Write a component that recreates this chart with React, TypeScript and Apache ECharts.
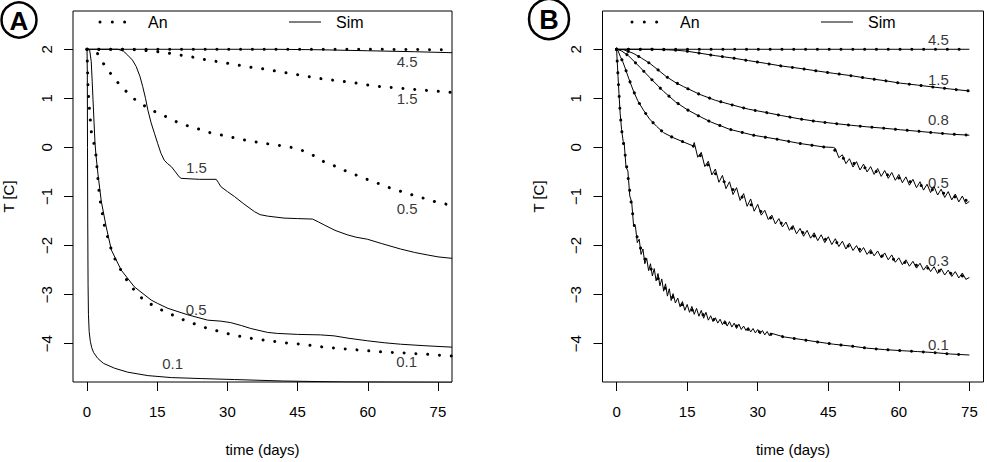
import React, { useEffect, useRef } from "react";
import * as echarts from "echarts";

// ---------- shared axis ticks ----------
const dayTicks = [0, 15, 30, 45, 60, 75];
const tempTicks = [-4, -3, -2, -1, 0, 1, 2];
const DAY_MIN = -3;
const DAY_MAX = 78;
const TEMP_MIN = -4.78;
const TEMP_MAX = 2.78;

// ---------- Panel A: analytical solutions (dotted) ----------
const anA45Days = [0, 20, 40, 60, 78];
const anA45Temp = [2, 2, 2, 2, 1.99];

const anA15Days = [0, 8, 12, 15.1, 17.6, 20.1, 22.6, 25.2, 27.8, 30.3, 32.7, 35.2, 37.7, 40.2, 42.7, 45.2, 47.6, 50.1, 52.6, 55.1, 57.6, 60.2, 62.7, 67.7, 70.2, 72.9, 75.5, 78];
const anA15Temp = [2, 2, 1.98, 1.95, 1.92, 1.88, 1.84, 1.79, 1.75, 1.71, 1.67, 1.63, 1.6, 1.56, 1.52, 1.48, 1.44, 1.4, 1.37, 1.34, 1.31, 1.27, 1.24, 1.2, 1.18, 1.16, 1.14, 1.12];

const anA05Days = [0, 1, 2.2, 3.5, 5, 6.6, 8.4, 10.2, 12.4, 14.5, 16.8, 19.2, 21.5, 24, 26.3, 28.8, 31.3, 33.8, 36.3, 38.8, 41.2, 43.7, 46.2, 48.5, 50.6, 53, 55.3, 57.7, 60.1, 62.4, 64.9, 67.2, 69.6, 72.1, 74.5, 76.9, 78];
const anA05Temp = [2, 1.99, 1.92, 1.71, 1.51, 1.32, 1.14, 0.98, 0.84, 0.73, 0.63, 0.52, 0.44, 0.37, 0.3, 0.25, 0.2, 0.15, 0.11, 0.07, 0.04, 0.0, -0.07, -0.17, -0.29, -0.38, -0.48, -0.57, -0.66, -0.74, -0.83, -0.9, -0.97, -1.04, -1.11, -1.16, -1.18];

const anA01Days = [0, 0.06, 0.2, 0.34, 0.5, 0.7, 0.92, 1.5, 1.92, 2.13, 2.34, 2.56, 2.9, 3.32, 3.75, 4.47, 5.18, 6.1, 7.3, 8.6, 10.1, 11.9, 14.1, 16.3, 18.7, 21, 23.4, 25.8, 28.3, 30.7, 33.2, 35.7, 38.2, 40.7, 43.2, 45.7, 48.2, 50.6, 53.1, 55.7, 58.3, 60.9, 63.4, 68.4, 71.1, 73.6, 76.1, 78];
const anA01Temp = [2, 1.75, 1.27, 1.03, 0.8, 0.56, 0.32, 0.07, -0.17, -0.41, -0.65, -0.9, -1.14, -1.37, -1.62, -1.85, -2.08, -2.31, -2.51, -2.72, -2.91, -3.09, -3.22, -3.33, -3.43, -3.53, -3.61, -3.69, -3.75, -3.81, -3.86, -3.9, -3.93, -3.96, -3.99, -4.01, -4.04, -4.07, -4.09, -4.11, -4.13, -4.15, -4.17, -4.19, -4.21, -4.22, -4.24, -4.25];

// ---------- Panel A: simulations (solid) ----------
const simA45Days = [0, 40, 50, 60, 70, 78];
const simA45Temp = [2, 2, 1.99, 1.97, 1.95, 1.93];

const simA15Days = [0, 6.6, 7.8, 8.7, 9.7, 10.5, 11.3, 11.9, 12.5, 13, 13.7, 14.4, 15.1, 15.8, 16.5, 17.2, 18, 18.9, 19.7, 20.1, 22, 24, 27.6, 28.1, 28.6, 30, 31.5, 33.5, 35.8, 37, 38.6, 42.1, 45, 48.2, 49.5, 50.7, 53, 55.6, 57.5, 59.9, 63, 67, 70, 72.7, 75, 78];
const simA15Temp = [2, 2, 1.96, 1.88, 1.78, 1.65, 1.45, 1.24, 1.0, 0.76, 0.5, 0.29, 0.08, -0.12, -0.26, -0.33, -0.39, -0.5, -0.6, -0.63, -0.64, -0.65, -0.65, -0.72, -0.8, -0.9, -1.0, -1.15, -1.31, -1.37, -1.4, -1.44, -1.45, -1.46, -1.52, -1.58, -1.69, -1.78, -1.83, -1.87, -1.96, -2.07, -2.14, -2.19, -2.23, -2.26];

const simA05Days = [0, 0.55, 0.9, 1.1, 1.28, 1.5, 1.7, 1.9, 2.34, 3.05, 4.1, 5.2, 7.3, 10.1, 13.7, 15.1, 17.3, 21.5, 25.8, 28.6, 30.7, 33, 35, 38.6, 40.7, 45, 49.9, 52.8, 56, 59.9, 63.5, 67, 72, 78];
const simA05Temp = [2, 1.99, 1.75, 1.35, 0.97, 0.5, 0.1, -0.15, -0.55, -1.1, -1.62, -2.09, -2.5, -2.84, -3.11, -3.18, -3.28, -3.41, -3.52, -3.54, -3.57, -3.63, -3.69, -3.77, -3.79, -3.81, -3.82, -3.84, -3.89, -3.94, -3.98, -4.01, -4.04, -4.07];

const simA01Days = [0, 0.06, 0.1, 0.15, 0.22, 0.3, 0.45, 0.7, 1, 1.4, 2.3, 3.5, 5.9, 8.7, 13, 18, 24.4, 31.5, 42, 55.6, 78];
const simA01Temp = [2, 1.5, 0, -1.5, -2.8, -3.4, -3.75, -3.95, -4.08, -4.18, -4.3, -4.4, -4.5, -4.58, -4.65, -4.69, -4.71, -4.73, -4.76, -4.78, -4.79];

// ---------- Panel B: analytical solutions ----------
const anB45Days = [0, 25, 50, 75];
const anB45Temp = [2, 2, 2, 2];

const anB15Days = [0, 7, 10.6, 12.8, 15, 17.7, 21, 24.8, 28, 31.9, 35, 39, 42.5, 46.1, 50, 53.2, 57, 60.3, 64, 67.4, 71, 75];
const anB15Temp = [2, 2, 1.99, 1.98, 1.96, 1.92, 1.87, 1.82, 1.77, 1.71, 1.66, 1.61, 1.56, 1.51, 1.46, 1.41, 1.36, 1.31, 1.27, 1.23, 1.19, 1.15];

const anB08Days = [0, 1.5, 3.5, 5.3, 7.1, 8.8, 10.6, 12.4, 14.2, 17.7, 21, 24.8, 28, 31.9, 35, 39, 42.5, 46.1, 50, 53.2, 57, 60.3, 64, 67.4, 71, 75];
const anB08Temp = [2, 1.99, 1.92, 1.82, 1.71, 1.58, 1.44, 1.33, 1.24, 1.08, 0.96, 0.86, 0.78, 0.71, 0.65, 0.58, 0.53, 0.49, 0.45, 0.42, 0.39, 0.36, 0.33, 0.3, 0.27, 0.25];

const anB05Days = [0, 1, 2.5, 5, 7.5, 10, 12.5, 15, 17.5, 20, 24, 29, 34, 39, 44, 46.1, 48.2, 50, 53.2, 56.5, 60.3, 64, 67.4, 71, 75];
const anB05Temp = [2, 1.97, 1.87, 1.63, 1.38, 1.14, 0.93, 0.77, 0.64, 0.52, 0.37, 0.25, 0.17, 0.08, 0.01, -0.03, -0.22, -0.31, -0.43, -0.53, -0.63, -0.75, -0.87, -0.98, -1.1];

const anB03Days = [0, 0.3, 0.8, 1.3, 1.8, 2.6, 3.5, 4.5, 5.7, 7, 8.5, 10, 12, 14, 16.3, 17.4, 20.6, 24, 29, 33.3, 39, 46.1, 53.2, 60.3, 67.4, 75];
const anB03Temp = [2, 1.97, 1.85, 1.75, 1.62, 1.4, 1.17, 0.95, 0.76, 0.58, 0.43, 0.3, 0.2, 0.12, 0.03, -0.12, -0.5, -0.8, -1.2, -1.47, -1.72, -1.92, -2.12, -2.32, -2.49, -2.65];

const anB01Days = [0, 0.1, 0.3, 0.5, 0.75, 1.06, 1.4, 1.77, 2.5, 3.2, 3.9, 4.96, 6.4, 8.5, 10.6, 12, 14.5, 17.7, 21, 24.8, 28, 31.9, 35.5, 39, 42.5, 46.1, 50, 53.2, 57, 60.3, 64, 67.4, 71, 75];
const anB01Temp = [2, 1.8, 1.45, 1.1, 0.7, 0.36, 0.12, -0.12, -0.66, -1.21, -1.68, -2.02, -2.36, -2.63, -2.91, -3.06, -3.25, -3.38, -3.52, -3.62, -3.71, -3.79, -3.86, -3.91, -3.96, -4.01, -4.05, -4.09, -4.12, -4.14, -4.16, -4.18, -4.21, -4.23];

// ---------- Panel B: simulations (freezing shows as a saw-tooth) ----------
const simB05Days = [0, 1, 2.5, 5, 7.5, 10, 12.5, 15, 17.5, 20, 24, 29, 34, 39, 44, 46.1,
  46.5, 47.25, 48, 48.75, 49.5, 50.25, 51, 51.75, 52.5, 53.25, 54, 54.75, 55.5, 56.25, 57, 57.75, 58.5, 59.25, 60, 60.75,
  61.5, 62.25, 63, 63.75, 64.5, 65.25, 66, 66.75, 67.5, 68.25, 69, 69.75, 70.5, 71.25, 72, 72.75, 73.5, 74.25, 75];
const simB05Temp = [2, 1.97, 1.87, 1.63, 1.38, 1.14, 0.93, 0.77, 0.64, 0.52, 0.37, 0.25, 0.17, 0.08, 0.01, 0.0,
  -0.02, -0.21, -0.15, -0.33, -0.23, -0.4, -0.29, -0.46, -0.34, -0.5, -0.39, -0.55, -0.43, -0.59, -0.47, -0.63, -0.51, -0.67, -0.55, -0.72,
  -0.6, -0.77, -0.65, -0.82, -0.7, -0.87, -0.75, -0.92, -0.8, -0.97, -0.85, -1.02, -0.9, -1.07, -0.95, -1.11, -0.99, -1.15, -1.1];

const simB03Days = [0, 0.3, 0.8, 1.3, 1.8, 2.6, 3.5, 4.5, 5.7, 7, 8.5, 10, 12, 14, 16.3,
  16.5, 17.25, 18, 18.75, 19.5, 20.25, 21, 21.75, 22.5, 23.25, 24, 24.75, 25.5, 26.25, 27, 27.75, 28.5, 29.25, 30, 30.75,
  31.5, 32.25, 33, 33.75, 34.5, 35.25, 36, 36.75, 37.5, 38.25, 39, 39.75, 40.5, 41.25, 42, 42.75, 43.5, 44.25, 45, 45.75,
  46.5, 47.25, 48, 48.75, 49.5, 50.25, 51, 51.75, 52.5, 53.25, 54, 54.75, 55.5, 56.25, 57, 57.75, 58.5, 59.25, 60, 60.75,
  61.5, 62.25, 63, 63.75, 64.5, 65.25, 66, 66.75, 67.5, 68.25, 69, 69.75, 70.5, 71.25, 72, 72.75, 73.5, 74.25, 75];
const simB03Temp = [2, 1.97, 1.85, 1.75, 1.62, 1.4, 1.17, 0.95, 0.76, 0.58, 0.43, 0.3, 0.2, 0.12, 0.03,
  0.1, -0.2, -0.1, -0.39, -0.28, -0.56, -0.44, -0.71, -0.57, -0.84, -0.7, -0.96, -0.82, -1.08, -0.94, -1.2, -1.05, -1.3, -1.16, -1.38,
  -1.28, -1.47, -1.38, -1.56, -1.45, -1.62, -1.52, -1.69, -1.59, -1.76, -1.65, -1.81, -1.69, -1.85, -1.74, -1.9, -1.78, -1.94, -1.82, -1.98,
  -1.86, -2.02, -1.91, -2.07, -1.95, -2.1, -2.0, -2.14, -2.04, -2.18, -2.08, -2.21, -2.11, -2.25, -2.15, -2.29, -2.19, -2.34, -2.25, -2.39,
  -2.29, -2.42, -2.32, -2.46, -2.36, -2.5, -2.4, -2.53, -2.43, -2.57, -2.47, -2.6, -2.5, -2.63, -2.53, -2.66, -2.56, -2.69, -2.65];

const simB01Days = [0, 0.1, 0.3, 0.5, 0.75, 1.06, 1.4,
  1.6, 2.0, 2.4, 2.8, 3.2, 3.6, 4.0, 4.4, 4.8, 5.2, 5.6, 6.0, 6.4, 6.8, 7.2, 7.6, 8.0, 8.4, 8.8, 9.2, 9.6, 10.0, 10.4, 10.8, 11.2, 11.6, 12.0,
  12.5, 13, 13.5, 14, 14.5, 15, 15.5, 16, 16.5, 17, 17.5, 18, 18.5, 19, 19.5, 20, 20.5, 21, 21.5, 22, 22.5, 23, 23.5, 24, 24.5, 25,
  25.5, 26, 26.5, 27, 27.5, 28, 28.5, 29, 29.5, 30, 30.5, 31, 31.5, 32, 32.5, 33,
  35.5, 39, 42.5, 46.1, 50, 53.2, 57, 60.3, 64, 67.4, 71, 75];
const simB01Temp = [2, 1.8, 1.45, 1.1, 0.7, 0.36, 0.12,
  0.1, -0.4, -0.48, -0.99, -1.11, -1.58, -1.61, -1.94, -1.87, -2.18, -2.07, -2.37, -2.26, -2.51, -2.37, -2.62, -2.47, -2.72, -2.57, -2.82, -2.68, -2.93, -2.78, -3.03, -2.88, -3.12, -2.98,
  -3.17, -3.07, -3.25, -3.14, -3.32, -3.2, -3.36, -3.24, -3.4, -3.28, -3.44, -3.32, -3.48, -3.36, -3.52, -3.43, -3.55, -3.47, -3.58, -3.5, -3.61, -3.53, -3.64, -3.55, -3.66, -3.58,
  -3.69, -3.6, -3.71, -3.64, -3.73, -3.67, -3.76, -3.69, -3.78, -3.71, -3.8, -3.73, -3.82, -3.75, -3.84, -3.79,
  -3.86, -3.91, -3.96, -4.01, -4.05, -4.09, -4.12, -4.14, -4.16, -4.18, -4.21, -4.23];

// ---------- curve annotations ----------
const labelsA = ["4.5", "1.5", "0.5", "0.1", "1.5", "0.5", "0.1"];
const labelsADay = [68.4, 68.4, 68.4, 68.3, 23.4, 23.3, 18.3];
const labelsATemp = [1.75, 1.0, -1.24, -4.37, -0.4, -3.31, -4.4];

const labelsB = ["4.5", "1.5", "0.8", "0.5", "0.3", "0.1"];
const labelsBDay = [68.4, 68.4, 68.4, 68.4, 68.4, 68.4];
const labelsBTemp = [2.19, 1.39, 0.56, -0.71, -2.31, -4.01];

const FONT = "'Liberation Sans', Arial, Helvetica, sans-serif";
const INK = "#000";

// R-style minus sign on the temperature ticks
const fmtTemp = (v: number) => (v < 0 ? "\u2212" + Math.abs(v) : String(v));

const zip = (t: number[], v: number[]) => {
  const n = Math.min(t.length, v.length);
  const out: number[][] = [];
  for (let i = 0; i < n; i++) out.push([t[i], v[i]]);
  return out;
};

const solid = (ax: number, t: number[], v: number[]) => ({
  type: "line",
  xAxisIndex: ax,
  yAxisIndex: ax,
  data: zip(t, v),
  symbol: "none",
  showSymbol: false,
  smooth: false,
  silent: true,
  clip: true,
  z: 2,
  lineStyle: { color: INK, width: 1 },
});

const dotted = (ax: number, t: number[], v: number[]) => ({
  type: "line",
  xAxisIndex: ax,
  yAxisIndex: ax,
  data: zip(t, v),
  symbol: "none",
  showSymbol: false,
  smooth: false,
  silent: true,
  clip: true,
  z: 3,
  lineStyle: { color: INK, width: 3, type: [0.01, 11.8], cap: "round" },
});

const labelSeries = (ax: number, names: string[], days: number[], temps: number[]) => ({
  type: "scatter",
  xAxisIndex: ax,
  yAxisIndex: ax,
  symbolSize: 0,
  silent: true,
  z: 5,
  data: names.map((n, i) => ({ name: n, value: [days[i], temps[i]] })),
  label: {
    show: true,
    position: "inside",
    formatter: "{b}",
    color: INK,
    fontSize: 15,
    fontFamily: FONT,
  },
});

// temperature tick labels drawn by a custom series, rotated to read upwards
const tempTickSeries = (ax: number) => ({
  type: "custom",
  xAxisIndex: ax,
  yAxisIndex: ax,
  silent: true,
  clip: false,
  z: 6,
  data: tempTicks.map((v) => [DAY_MIN, v]),
  renderItem: (params: any, api: any) => {
    const v = api.value(1);
    const p = api.coord([api.value(0), v]);
    return {
      type: "group",
      x: p[0] - 27,
      y: p[1],
      rotation: Math.PI / 2,
      children: [
        {
          type: "text",
          x: 0,
          y: 0,
          style: {
            text: fmtTemp(v),
            fill: INK,
            font: `15px ${FONT}`,
            align: "center",
            verticalAlign: "middle",
          },
        },
      ],
    };
  },
});

const makeX = (grid: number) => ({
  type: "value",
  gridIndex: grid,
  min: DAY_MIN,
  max: DAY_MAX,
  axisLine: { show: false, onZero: false },
  splitLine: { show: false },
  axisTick: { show: true, length: 9, customValues: dayTicks, lineStyle: { color: INK, width: 1 } },
  axisLabel: { customValues: dayTicks, margin: 22, color: INK, fontSize: 15, fontFamily: FONT },
  name: "time (days)",
  nameLocation: "middle",
  nameGap: 60,
  nameTextStyle: { color: INK, fontSize: 15, fontFamily: FONT },
});

const makeY = (grid: number) => ({
  type: "value",
  gridIndex: grid,
  min: TEMP_MIN,
  max: TEMP_MAX,
  axisLine: { show: false, onZero: false },
  splitLine: { show: false },
  axisTick: { show: true, length: 9, customValues: tempTicks, lineStyle: { color: INK, width: 1 } },
  axisLabel: { show: false },
  name: "T [C]",
  nameLocation: "middle",
  nameRotate: 90,
  nameGap: 57,
  nameTextStyle: { color: INK, fontSize: 15, fontFamily: FONT },
});

const legendItems = (x0: number) => [
  {
    type: "line",
    shape: { x1: x0, y1: 22, x2: x0 + 25, y2: 22 },
    style: { stroke: INK, lineWidth: 3, lineDash: [0.01, 12.3], lineCap: "round" },
  },
  {
    type: "text",
    x: x0 + 48,
    y: 22,
    style: { text: "An", fill: INK, font: `16px ${FONT}`, verticalAlign: "middle", align: "left" },
  },
  {
    type: "line",
    shape: { x1: x0 + 189, y1: 22, x2: x0 + 221, y2: 22 },
    style: { stroke: INK, lineWidth: 1 },
  },
  {
    type: "text",
    x: x0 + 236,
    y: 22,
    style: { text: "Sim", fill: INK, font: `16px ${FONT}`, verticalAlign: "middle", align: "left" },
  },
];

const badge = (cx: number, cy: number, r: number, letter: string, size: number) => [
  {
    type: "circle",
    shape: { cx, cy, r },
    style: { stroke: INK, lineWidth: 2.5, fill: "none" },
  },
  {
    type: "text",
    x: cx,
    y: cy + 1,
    style: {
      text: letter,
      fill: INK,
      font: `bold ${size}px ${FONT}`,
      align: "center",
      verticalAlign: "middle",
    },
  },
];

export default function App() {
  const ref = useRef<HTMLDivElement>(null);

  useEffect(() => {
    if (!ref.current) return;
    const chart = echarts.init(ref.current, undefined, { renderer: "svg" });

    const option: any = {
      animation: false,
      backgroundColor: "#fff",
      grid: [
        { left: 71, top: 11, width: 381, height: 371, show: true, borderColor: INK, borderWidth: 1, backgroundColor: "transparent" },
        { left: 602.5, top: 11, width: 381, height: 371, show: true, borderColor: INK, borderWidth: 1, backgroundColor: "transparent" },
      ],
      xAxis: [makeX(0), makeX(1)],
      yAxis: [makeY(0), makeY(1)],
      series: [
        // panel A
        solid(0, simA45Days, simA45Temp),
        solid(0, simA15Days, simA15Temp),
        solid(0, simA05Days, simA05Temp),
        solid(0, simA01Days, simA01Temp),
        dotted(0, anA45Days, anA45Temp),
        dotted(0, anA15Days, anA15Temp),
        dotted(0, anA05Days, anA05Temp),
        dotted(0, anA01Days, anA01Temp),
        labelSeries(0, labelsA, labelsADay, labelsATemp),
        tempTickSeries(0),
        // panel B
        solid(1, anB45Days, anB45Temp),
        solid(1, anB15Days, anB15Temp),
        solid(1, anB08Days, anB08Temp),
        solid(1, simB05Days, simB05Temp),
        solid(1, simB03Days, simB03Temp),
        solid(1, simB01Days, simB01Temp),
        dotted(1, anB45Days, anB45Temp),
        dotted(1, anB15Days, anB15Temp),
        dotted(1, anB08Days, anB08Temp),
        dotted(1, anB05Days, anB05Temp),
        dotted(1, anB03Days, anB03Temp),
        dotted(1, anB01Days, anB01Temp),
        labelSeries(1, labelsB, labelsBDay, labelsBTemp),
        tempTickSeries(1),
      ],
      graphic: [
        ...badge(19, 20, 17.5, "A", 26),
        ...badge(549, 19, 20, "B", 27),
        ...legendItems(100),
        ...legendItems(632),
      ],
    };

    chart.setOption(option);
    return () => chart.dispose();
  }, []);

  return (
    <div
      ref={ref}
      style={{ position: "fixed", left: 0, top: 0, width: 987, height: 462, background: "#fff" }}
    />
  );
}
